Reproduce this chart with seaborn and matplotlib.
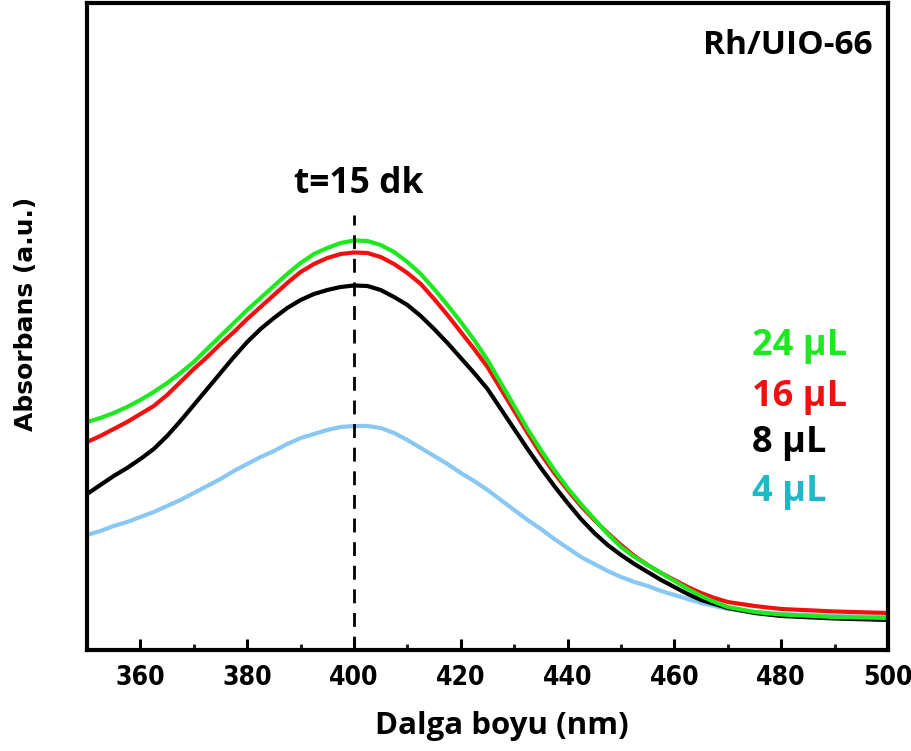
import matplotlib
matplotlib.use("Agg")
import matplotlib.pyplot as plt
import seaborn as sns
import pandas as pd
from matplotlib.ticker import FixedLocator

sns.set_theme(style="white")
plt.rcParams['font.family'] = ['Open Sans', 'DejaVu Sans']

wavelength = [350, 352.5, 355, 357.5, 360, 362.5, 365, 367.5, 370, 372.5, 375, 377.5,
              380, 382.5, 385, 387.5, 390, 392.5, 395, 397.5, 400, 402.5, 405, 407.5,
              410, 412.5, 415, 417.5, 420, 422.5, 425, 427.5, 430, 432.5, 435, 437.5,
              440, 442.5, 445, 447.5, 450, 452.5, 455, 457.5, 460, 462.5, 465, 467.5,
              470, 475, 480, 490, 500]
abs_24 = [228, 232, 237, 243, 250, 258, 267, 277, 288, 301, 314, 327,
          340, 352, 364, 376, 387, 396, 402, 407, 409.5, 409, 405, 398,
          388, 376, 361, 345, 328, 310, 290, 267, 244, 221, 200, 180,
          162, 146, 131, 116, 103, 93, 85, 77, 69, 61, 54, 48,
          43, 38, 35.5, 33, 32]
abs_16 = [208, 214, 221, 228, 236, 244, 255, 268, 281, 293, 306, 318,
          331, 343, 355, 367, 378, 386, 392, 396, 397.5, 397, 393, 386,
          377, 366, 351, 335, 318, 301, 283, 261, 239, 217, 196, 177,
          160, 144, 130, 117, 105, 94, 85, 77, 70, 63, 57, 52,
          48, 44, 41, 38.5, 37]
abs_8 = [156, 165, 174, 182, 191, 201, 214, 229, 245, 261, 277, 293,
         308, 321, 332, 342, 350, 356, 360, 363, 364.5, 364, 360, 353,
         345, 334, 321, 307, 292, 277, 261, 241, 221, 201, 182, 164,
         147, 131, 117, 105, 95, 86, 78, 70, 63, 56, 50, 46,
         42, 37, 34, 31.5, 30]
abs_4 = [115, 119, 124, 128, 133, 138, 144, 150, 157, 164, 171, 179,
         186, 193, 199, 206, 212, 216, 220, 223, 224, 224, 222, 217,
         210, 202, 194, 186, 177, 169, 160, 150, 140, 130, 121, 111,
         102, 93, 86, 79, 73, 68, 64, 59, 55, 51, 47, 44,
         41, 38, 36, 34, 33]

labels = ["24 µL", "16 µL", "8 µL", "4 µL"]
line_colors = ["#1EE81E", "#F01010", "#000000", "#88C8F2"]
text_colors = ["#1EE81E", "#F01010", "#000000", "#1FB8C6"]
series = [abs_24, abs_16, abs_8, abs_4]

fig = plt.figure(figsize=(9.12, 7.51), dpi=100)
ax = fig.add_axes([0.0954, 0.1345, 0.8783, 0.8615])

for vals, col in zip(series[::-1], line_colors[::-1]):
    df = pd.DataFrame({"wl": wavelength, "a": vals})
    sns.lineplot(data=df, x="wl", y="a", ax=ax, color=col, linewidth=3.0)

ax.set_xlim(350, 500)
ax.set_ylim(0, 647)
ax.axvline(400, ymin=0, ymax=(650 - 215) / 647, color="black", linewidth=2.0,
           linestyle=(0, (5, 3.5)))

for s in ax.spines.values():
    s.set_linewidth(3.0)
    s.set_color("black")

ax.xaxis.set_major_locator(FixedLocator([360, 380, 400, 420, 440, 460, 480, 500]))
ax.xaxis.set_minor_locator(FixedLocator([370, 390, 410, 430, 450, 470, 490]))
ax.tick_params(axis="x", which="major", direction="in", length=8, width=2.2,
               bottom=True, top=False, pad=11, labelsize=19, colors="black")
ax.tick_params(axis="x", which="minor", direction="in", length=4, width=2.2,
               bottom=True, top=False)
ax.set_yticks([])
for lab in ax.get_xticklabels():
    lab.set_fontfamily(['DejaVu Sans'])
    lab.set_fontstretch("condensed")
    lab.set_fontweight("bold")

ax.set_xlabel("Dalga boyu (nm)", fontsize=22.5, fontweight="bold", color="black")
ax.xaxis.set_label_coords(0.518, -0.094)
ax.set_ylabel("Absorbans (a.u.)", fontsize=18, fontweight="bold", color="black",
              family=["DejaVu Sans"])
ax.yaxis.set_label_coords(-0.061, 0.52)

ax.text(0.981, 0.935, "Rh/UIO-66", transform=ax.transAxes, ha="right", va="center",
        fontsize=24, fontweight="bold", color="black")
ax.text(400.9, 650 - 184, "t=15 dk", ha="center", va="center", fontsize=25.5,
        fontweight="bold", color="black")

label_y = [346, 397, 443, 492]
for lab, col, py in zip(labels, text_colors, label_y):
    ax.text(752 / 912, 1 - py / 751, lab, transform=fig.transFigure, ha="left",
            va="center", fontsize=26, fontweight="bold", color=col)

fig.savefig("out.png", dpi=100)
